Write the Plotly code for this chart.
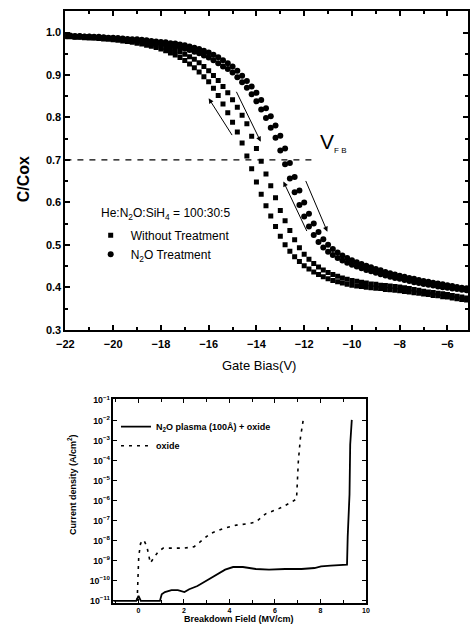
import plotly.graph_objects as go

# ---------------- Top panel data: C/Cox vs gate bias ----------------
V_bias = [
    -22.0, -21.8, -21.6, -21.4, -21.2, -21.0, -20.8, -20.6, -20.4, -20.2,
    -20.0, -19.8, -19.6, -19.4, -19.2, -19.0, -18.8, -18.6, -18.4, -18.2,
    -18.0, -17.8, -17.6, -17.4, -17.2, -17.0, -16.8, -16.6, -16.4, -16.2,
    -16.0, -15.8, -15.6, -15.4, -15.2, -15.0, -14.8, -14.6, -14.4, -14.2,
    -14.0, -13.8, -13.6, -13.4, -13.2, -13.0, -12.8, -12.6, -12.4, -12.2,
    -12.0, -11.8, -11.6, -11.4, -11.2, -11.0, -10.8, -10.6, -10.4, -10.2,
    -10.0, -9.8, -9.6, -9.4, -9.2, -9.0, -8.8, -8.6, -8.4, -8.2,
    -8.0, -7.8, -7.6, -7.4, -7.2, -7.0, -6.8, -6.6, -6.4, -6.2,
    -6.0, -5.8, -5.6, -5.4, -5.2, -5.0,
]

C_without_left = [
    0.990, 0.990, 0.989, 0.989, 0.988, 0.987, 0.987, 0.986, 0.985, 0.984,
    0.983, 0.982, 0.980, 0.979, 0.977, 0.975, 0.973, 0.970, 0.968, 0.965,
    0.961, 0.957, 0.952, 0.947, 0.941, 0.934, 0.926, 0.917, 0.907, 0.896,
    0.884, 0.869, 0.852, 0.832, 0.811, 0.789, 0.766, 0.740, 0.709, 0.679,
    0.648, 0.619, 0.592, 0.568, 0.543, 0.520, 0.500, 0.485, 0.472, 0.461,
    0.451, 0.443, 0.436, 0.430, 0.425, 0.420, 0.416, 0.413, 0.410, 0.407,
    0.405, 0.403, 0.402, 0.400, 0.399, 0.398, 0.397, 0.395, 0.394, 0.393,
    0.392, 0.390, 0.389, 0.387, 0.386, 0.384, 0.383, 0.381, 0.380, 0.378,
    0.377, 0.375, 0.373, 0.371, 0.370, 0.368,
]

C_without_right = [
    0.991, 0.991, 0.990, 0.990, 0.989, 0.989, 0.988, 0.988, 0.987, 0.986,
    0.985, 0.984, 0.983, 0.982, 0.981, 0.979, 0.977, 0.975, 0.973, 0.971,
    0.968, 0.965, 0.962, 0.958, 0.954, 0.949, 0.943, 0.937, 0.929, 0.920,
    0.910, 0.899, 0.887, 0.873, 0.858, 0.842, 0.824, 0.805, 0.785, 0.756,
    0.727, 0.697, 0.667, 0.639, 0.611, 0.581, 0.557, 0.534, 0.512, 0.493,
    0.478, 0.466, 0.456, 0.448, 0.441, 0.435, 0.430, 0.426, 0.422, 0.419,
    0.416, 0.414, 0.412, 0.410, 0.408, 0.407, 0.405, 0.404, 0.403, 0.402,
    0.401, 0.399, 0.397, 0.395, 0.393, 0.391, 0.389, 0.388, 0.386, 0.385,
    0.383, 0.381, 0.379, 0.377, 0.375, 0.373,
]

C_n2o_left = [
    0.992, 0.992, 0.991, 0.991, 0.990, 0.990, 0.989, 0.988, 0.988, 0.987,
    0.986, 0.985, 0.984, 0.983, 0.982, 0.981, 0.980, 0.978, 0.977, 0.975,
    0.974, 0.972, 0.970, 0.968, 0.965, 0.962, 0.959, 0.955, 0.951, 0.946,
    0.941, 0.935, 0.928, 0.920, 0.914, 0.906, 0.895, 0.883, 0.870, 0.855,
    0.838, 0.819, 0.799, 0.776, 0.752, 0.722, 0.690, 0.656, 0.624, 0.594,
    0.567, 0.543, 0.523, 0.507, 0.494, 0.484, 0.476, 0.469, 0.463, 0.458,
    0.453, 0.449, 0.445, 0.441, 0.438, 0.434, 0.431, 0.428, 0.425, 0.422,
    0.420, 0.417, 0.415, 0.412, 0.410, 0.408, 0.406, 0.404, 0.402, 0.400,
    0.399, 0.397, 0.396, 0.394, 0.393, 0.391,
]

C_n2o_right = [
    0.993, 0.993, 0.992, 0.992, 0.991, 0.991, 0.990, 0.990, 0.989, 0.988,
    0.988, 0.987, 0.986, 0.985, 0.984, 0.984, 0.983, 0.982, 0.980, 0.979,
    0.978, 0.977, 0.975, 0.974, 0.972, 0.970, 0.967, 0.964, 0.961, 0.957,
    0.953, 0.948, 0.942, 0.935, 0.928, 0.920, 0.910, 0.898, 0.886, 0.873,
    0.858, 0.841, 0.822, 0.803, 0.781, 0.757, 0.727, 0.693, 0.660, 0.628,
    0.600, 0.573, 0.550, 0.530, 0.513, 0.500, 0.490, 0.482, 0.475, 0.469,
    0.464, 0.459, 0.455, 0.451, 0.447, 0.443, 0.440, 0.436, 0.433, 0.430,
    0.427, 0.425, 0.422, 0.420, 0.417, 0.415, 0.413, 0.411, 0.409, 0.407,
    0.405, 0.403, 0.401, 0.399, 0.398, 0.396,
]

top_xticks = [-22, -20, -18, -16, -14, -12, -10, -8, -6]
top_yticks = [0.3, 0.4, 0.5, 0.6, 0.7, 0.8, 0.9, 1.0]
V_FB_level = 0.7

# ---------------- Bottom panel data: J vs breakdown field ----------------
E_plasma = [-1.1, -0.1, 0.0, 0.1, 0.94, 1.02, 1.16, 1.45, 1.73, 2.02, 2.23, 2.59,
            3.02, 3.45, 3.81, 4.16, 4.59, 5.16, 5.74, 6.45, 7.17, 7.74, 8.03,
            8.45, 8.9, 9.17, 9.2, 9.24, 9.28, 9.31, 9.38]
J_plasma = [1.0e-11, 1.0e-11, 1.8e-11, 1.0e-11, 1.0e-11, 2.14e-11, 2.75e-11,
            3.47e-11, 3.47e-11, 2.75e-11, 3.8e-11, 5.5e-11, 1.07e-10, 2.09e-10,
            3.63e-10, 4.9e-10, 4.9e-10, 3.9e-10, 3.63e-10, 3.9e-10, 3.9e-10,
            4.37e-10, 5.25e-10, 5.75e-10, 6.0e-10, 6.5e-10, 1.6e-8, 1.05e-7,
            2.1e-6, 6.3e-4, 1.07e-2]

E_oxide = [-0.06, -0.03, 0.01, 0.09, 0.23, 0.37, 0.47, 0.52, 0.66, 0.87, 1.09,
           1.45, 2.02, 2.45, 2.73, 3.16, 3.73, 4.30, 4.88, 5.16, 5.59, 6.17,
           6.74, 6.95, 7.03, 7.12, 7.24]
J_oxide = [1.0e-11, 1.7e-10, 1.66e-9, 7.4e-9, 1.1e-8, 5.1e-9, 1.66e-9, 7.8e-10,
           1.35e-9, 2.9e-9, 4.3e-9, 4.3e-9, 4.3e-9, 5.1e-9, 9.1e-9, 2.3e-8,
           4.1e-8, 6.0e-8, 7.2e-8, 8.7e-8, 2.2e-7, 4.0e-7, 8.5e-7, 1.23e-6,
           9.5e-5, 1.35e-3, 1.0e-2]

bottom_xticks = [0, 2, 4, 6, 8, 10]

W, H = 472, 635
FONT = "Arial"

fig = go.Figure()

# top panel traces
fig.add_trace(go.Scatter(x=V_bias, y=C_without_left, mode="markers",
                         marker=dict(symbol="square", size=5, color="black"),
                         name="Without Treatment", legendgroup="wo",
                         xaxis="x", yaxis="y", legend="legend"))
fig.add_trace(go.Scatter(x=V_bias, y=C_without_right, mode="markers",
                         marker=dict(symbol="square", size=5, color="black"),
                         name="Without Treatment", legendgroup="wo", showlegend=False,
                         xaxis="x", yaxis="y"))
fig.add_trace(go.Scatter(x=V_bias, y=C_n2o_left, mode="markers",
                         marker=dict(symbol="circle", size=6, color="black"),
                         name="N<sub>2</sub>O Treatment", legendgroup="n2o",
                         xaxis="x", yaxis="y", legend="legend"))
fig.add_trace(go.Scatter(x=V_bias, y=C_n2o_right, mode="markers",
                         marker=dict(symbol="circle", size=6, color="black"),
                         name="N<sub>2</sub>O Treatment", legendgroup="n2o", showlegend=False,
                         xaxis="x", yaxis="y"))

# bottom panel traces
fig.add_trace(go.Scatter(x=E_plasma, y=J_plasma, mode="lines",
                         line=dict(color="black", width=1.8),
                         name="N<sub>2</sub>O plasma (100Å) + oxide",
                         xaxis="x2", yaxis="y2", legend="legend2"))
fig.add_trace(go.Scatter(x=E_oxide, y=J_oxide, mode="lines",
                         line=dict(color="black", width=1.6, dash="3px,5px"),
                         name="oxide",
                         xaxis="x2", yaxis="y2", legend="legend2"))

# V_FB reference line
fig.add_shape(type="line", xref="x", yref="y", x0=-22, x1=-11.5,
              y0=V_FB_level, y1=V_FB_level,
              line=dict(color="black", width=1.2, dash="6px,6px"))

ann = []
# sweep arrows
for (hx, hy, tx, ty) in [(-16.0, 0.845, -14.98, 0.755),
                         (-13.82, 0.743, -14.87, 0.864),
                         (-12.87, 0.649, -11.86, 0.529),
                         (-11.03, 0.531, -11.96, 0.654)]:
    ann.append(dict(x=hx, y=hy, ax=tx, ay=ty, xref="x", yref="y",
                    axref="x", ayref="y", text="", showarrow=True,
                    arrowhead=2, arrowsize=1, arrowwidth=1, arrowcolor="black"))

ann.append(dict(x=-11.42, y=0.742, xref="x", yref="y", xanchor="left", yanchor="middle",
                text="V<sub><span style='font-size:8px'>F B</span></sub>",
                showarrow=False, font=dict(family=FONT, size=21, color="black")))

# top legend heading
ann.append(dict(x=93 / W, y=1 - 212 / H, xref="paper", yref="paper",
                xanchor="left", yanchor="middle",
                text="He:N<sub>2</sub>O:SiH<sub>4</sub> = 100:30:5", showarrow=False,
                font=dict(family=FONT, size=12, color="black")))

# axis titles
ann.append(dict(x=257 / W, y=1 - 366 / H, xref="paper", yref="paper",
                xanchor="center", yanchor="middle",
                text="Gate Bias(V)", showarrow=False,
                font=dict(family=FONT, size=13, color="black")))
ann.append(dict(x=15 / W, y=1 - 177 / H, xref="paper", yref="paper",
                xanchor="center", yanchor="middle",
                text="C/Cox", textangle=-90, showarrow=False,
                font=dict(family=FONT, size=16, color="black", weight="bold")))
ann.append(dict(x=237 / W, y=1 - 625 / H, xref="paper", yref="paper",
                xanchor="center", yanchor="middle",
                text="Breakdown Field (MV/cm)", showarrow=False,
                font=dict(family=FONT, size=9, color="black", weight="bold")))
ann.append(dict(x=65 / W, y=1 - 488 / H, xref="paper", yref="paper",
                xanchor="center", yanchor="middle",
                text="Current density (A/cm<sup>2</sup>)", textangle=-90, showarrow=False,
                font=dict(family=FONT, size=9, color="black", weight="bold")))

axis_common = dict(showline=True, linecolor="black", mirror="ticks", ticks="inside",
                   tickcolor="black", showgrid=False, zeroline=False)

fig.update_layout(
    width=W, height=H, margin=dict(l=0, r=0, t=0, b=0),
    paper_bgcolor="white", plot_bgcolor="white",
    font=dict(family=FONT, color="black"),
    xaxis=dict(domain=[58 / W, 1.0], range=[-22, -5.14], anchor="y",
               tickvals=top_xticks, ticklen=5, tickwidth=1.5, linewidth=2,
               ticklabelstandoff=3,
               minor=dict(dtick=1, tick0=-21, ticks="inside", ticklen=3, tickcolor="black"),
               tickfont=dict(family=FONT, size=11, weight="bold"), **axis_common),
    yaxis=dict(domain=[1 - 330 / H, 1 - 5 / H], range=[0.3, 1.051], anchor="x",
               tickvals=top_yticks, tickformat=".1f", ticklen=5, tickwidth=1.5, linewidth=2,
               minor=dict(dtick=0.05, tick0=0.3, ticks="inside", ticklen=3, tickcolor="black"),
               tickfont=dict(family=FONT, size=11, weight="bold"), **axis_common),
    xaxis2=dict(domain=[107 / W, 367 / W], range=[-1.12, 10.0], anchor="y2",
                tickvals=bottom_xticks, ticklen=4, tickwidth=1.2, linewidth=1.6,
                minor=dict(dtick=1, tick0=1, ticks="inside", ticklen=3, tickcolor="black"),
                tickfont=dict(family=FONT, size=7, weight="bold"), **axis_common),
    yaxis2=dict(domain=[1 - 608 / H, 1 - 401 / H], type="log", range=[-11.08, -0.95],
                anchor="x2", dtick=1, exponentformat="power", ticklen=4, tickwidth=1.2,
                linewidth=1.6, tickfont=dict(family=FONT, size=7, weight="bold"),
                **axis_common),
    legend=dict(x=84 / W, y=1 - 219 / H, xanchor="left", yanchor="top",
                bgcolor="rgba(0,0,0,0)", borderwidth=0,
                font=dict(family=FONT, size=12), tracegroupgap=0),
    legend2=dict(x=110 / W, y=1 - 414 / H, xanchor="left", yanchor="top",
                 bgcolor="rgba(0,0,0,0)", borderwidth=0,
                 font=dict(family=FONT, size=9, weight="bold"), tracegroupgap=0),
    annotations=ann,
    showlegend=True,
)

fig.write_html("out.html")
